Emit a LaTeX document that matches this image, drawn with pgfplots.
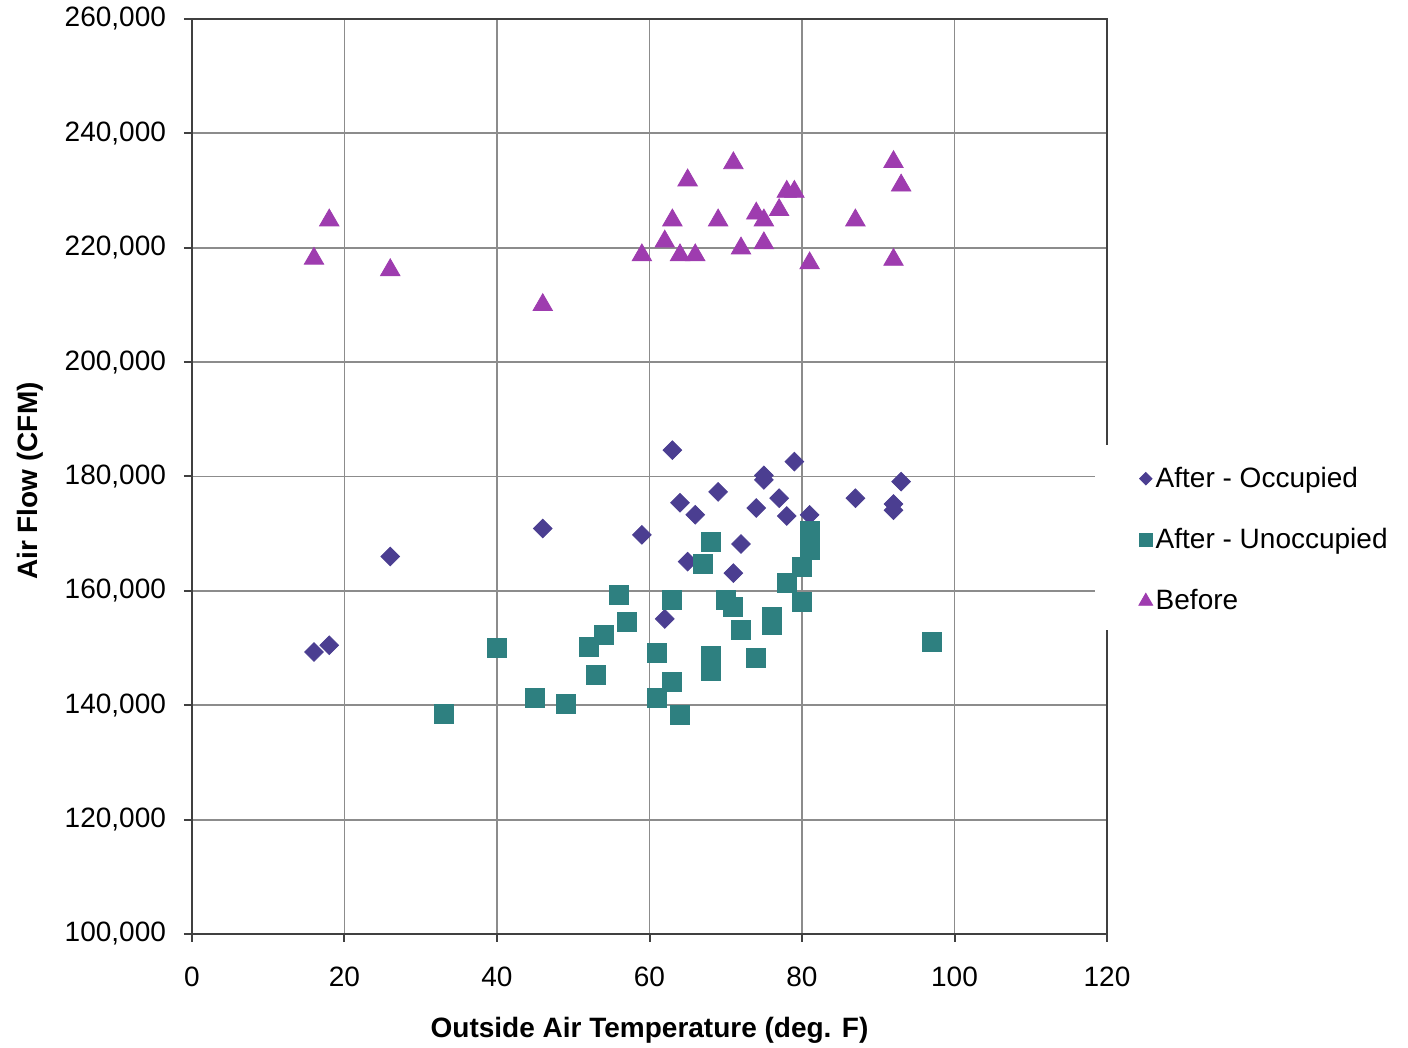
\documentclass[border=0pt]{standalone}
\usepackage{fontspec}
\setmainfont{Liberation Sans}
\usepackage{pgfplots}
\pgfplotsset{compat=1.18}
\definecolor{occ}{RGB}{75,62,145}
\definecolor{unocc}{RGB}{46,128,128}
\definecolor{bef}{RGB}{158,60,175}
\definecolor{frame}{RGB}{64,64,64}
\definecolor{gridc}{RGB}{140,140,140}
\begin{document}
\begin{tikzpicture}
\useasboundingbox (-96pt,-57pt) rectangle (608pt,467pt);
\begin{axis}[
  at={(0,0)}, anchor=south west,
  scale only axis, width=457.5pt, height=457.5pt,
  xmin=0, xmax=120, ymin=100000, ymax=260000,
  xtick={0,20,40,60,80,100,120},
  xticklabels={0,20,40,60,80,100,120},
  ytick={100000,120000,140000,160000,180000,200000,220000,240000,260000},
  yticklabels={{100,000},{120,000},{140,000},{160,000},{180,000},{200,000},{220,000},{240,000},{260,000}},
  grid=major,
  major grid style={draw=gridc, line width=0.9pt},
  axis line style={draw=frame, line width=1.2pt},
  tick align=outside, major tick length=4pt,
  tick style={draw=frame, line width=1pt},
  xtick pos=bottom, ytick pos=left,
  tick label style={font=\fontsize{14}{16}\selectfont, text=black},
  yticklabel style={xshift=-5.5pt},
  xticklabel style={yshift=-9pt},
  label style={font=\fontsize{14}{16}\selectfont\bfseries},
  xlabel={Outside Air Temperature (deg. F)},
  ylabel={Air Flow (CFM)},
  xlabel style={at={(axis description cs:0.5,-0.1049)}, anchor=center},
  ylabel style={at={(axis description cs:-0.177,0.495)}, anchor=center, rotate=0},
  clip=false,
  legend style={at={(axis description cs:1.0344,0.4306)}, anchor=west,
    draw=none, fill=none, font=\fontsize{14}{16}\selectfont,
    row sep=16pt, inner sep=0pt, nodes={inner sep=1.5pt}},
  legend cell align=left,
  legend image code/.code={\draw[mark repeat=2,mark phase=2,#1] plot coordinates {(-2pt,0pt)(2pt,0pt)(8pt,0pt)};},
]
\fill[white] (axis description cs:0.987,0.5344) rectangle (axis description cs:1.329,0.3322);
\addplot[only marks, mark=square*, mark size=3.3pt, color=occ, mark options={rotate=45, fill=occ, draw=occ},
  legend image post style={mark size=2.2pt}]
coordinates {
(16,149300) (18,150500) (26,166000) (46,170900) (59,169800) (63,184600)
(64,175400) (66,173300) (69,177300) (65,165100) (62,155100) (72,168200)
(71,163100) (74,174500) (75,179400) (75,180200) (77,176200) (78,173100)
(79,182600) (81,173300) (87,176200) (92,175200) (92,174100) (93,179100)
};
\addplot[only marks, mark=square*, mark size=4.75pt, color=unocc, mark options={fill=unocc, draw=unocc},
  legend image post style={mark size=3.4pt}]
coordinates {
(33,138400) (40,150000) (45,141200) (49,140200) (52,150200) (53,145300)
(54,152300) (56,159300) (57,154600) (61,149100) (61,141200) (63,144100)
(63,158400) (64,138300) (67,164800) (68,168600) (68,148700) (68,146000)
(70,158400) (71,157200) (72,153200) (74,148200) (76,155500) (76,154100)
(78,161400) (80,164200) (80,158100) (81,170500) (81,168900) (81,167200)
(97,151100)
};
\addplot[only marks, mark=triangle*, mark size=5.6pt, color=bef, mark options={fill=bef, draw=bef},
  legend image post style={mark size=4pt}]
coordinates {
(16,218100) (18,224800) (26,216100) (46,210000) (59,218700) (62,221100)
(63,224800) (65,231800) (64,218700) (66,218700) (69,224800) (71,234800)
(72,219900) (74,226000) (75,224800) (75,220800) (77,226600) (78,229800)
(79,229800) (81,217300) (87,224800) (92,235000) (93,230900) (92,217900)
};
\legend{After - Occupied, After - Unoccupied, Before}
\end{axis}
\end{tikzpicture}
\end{document}
